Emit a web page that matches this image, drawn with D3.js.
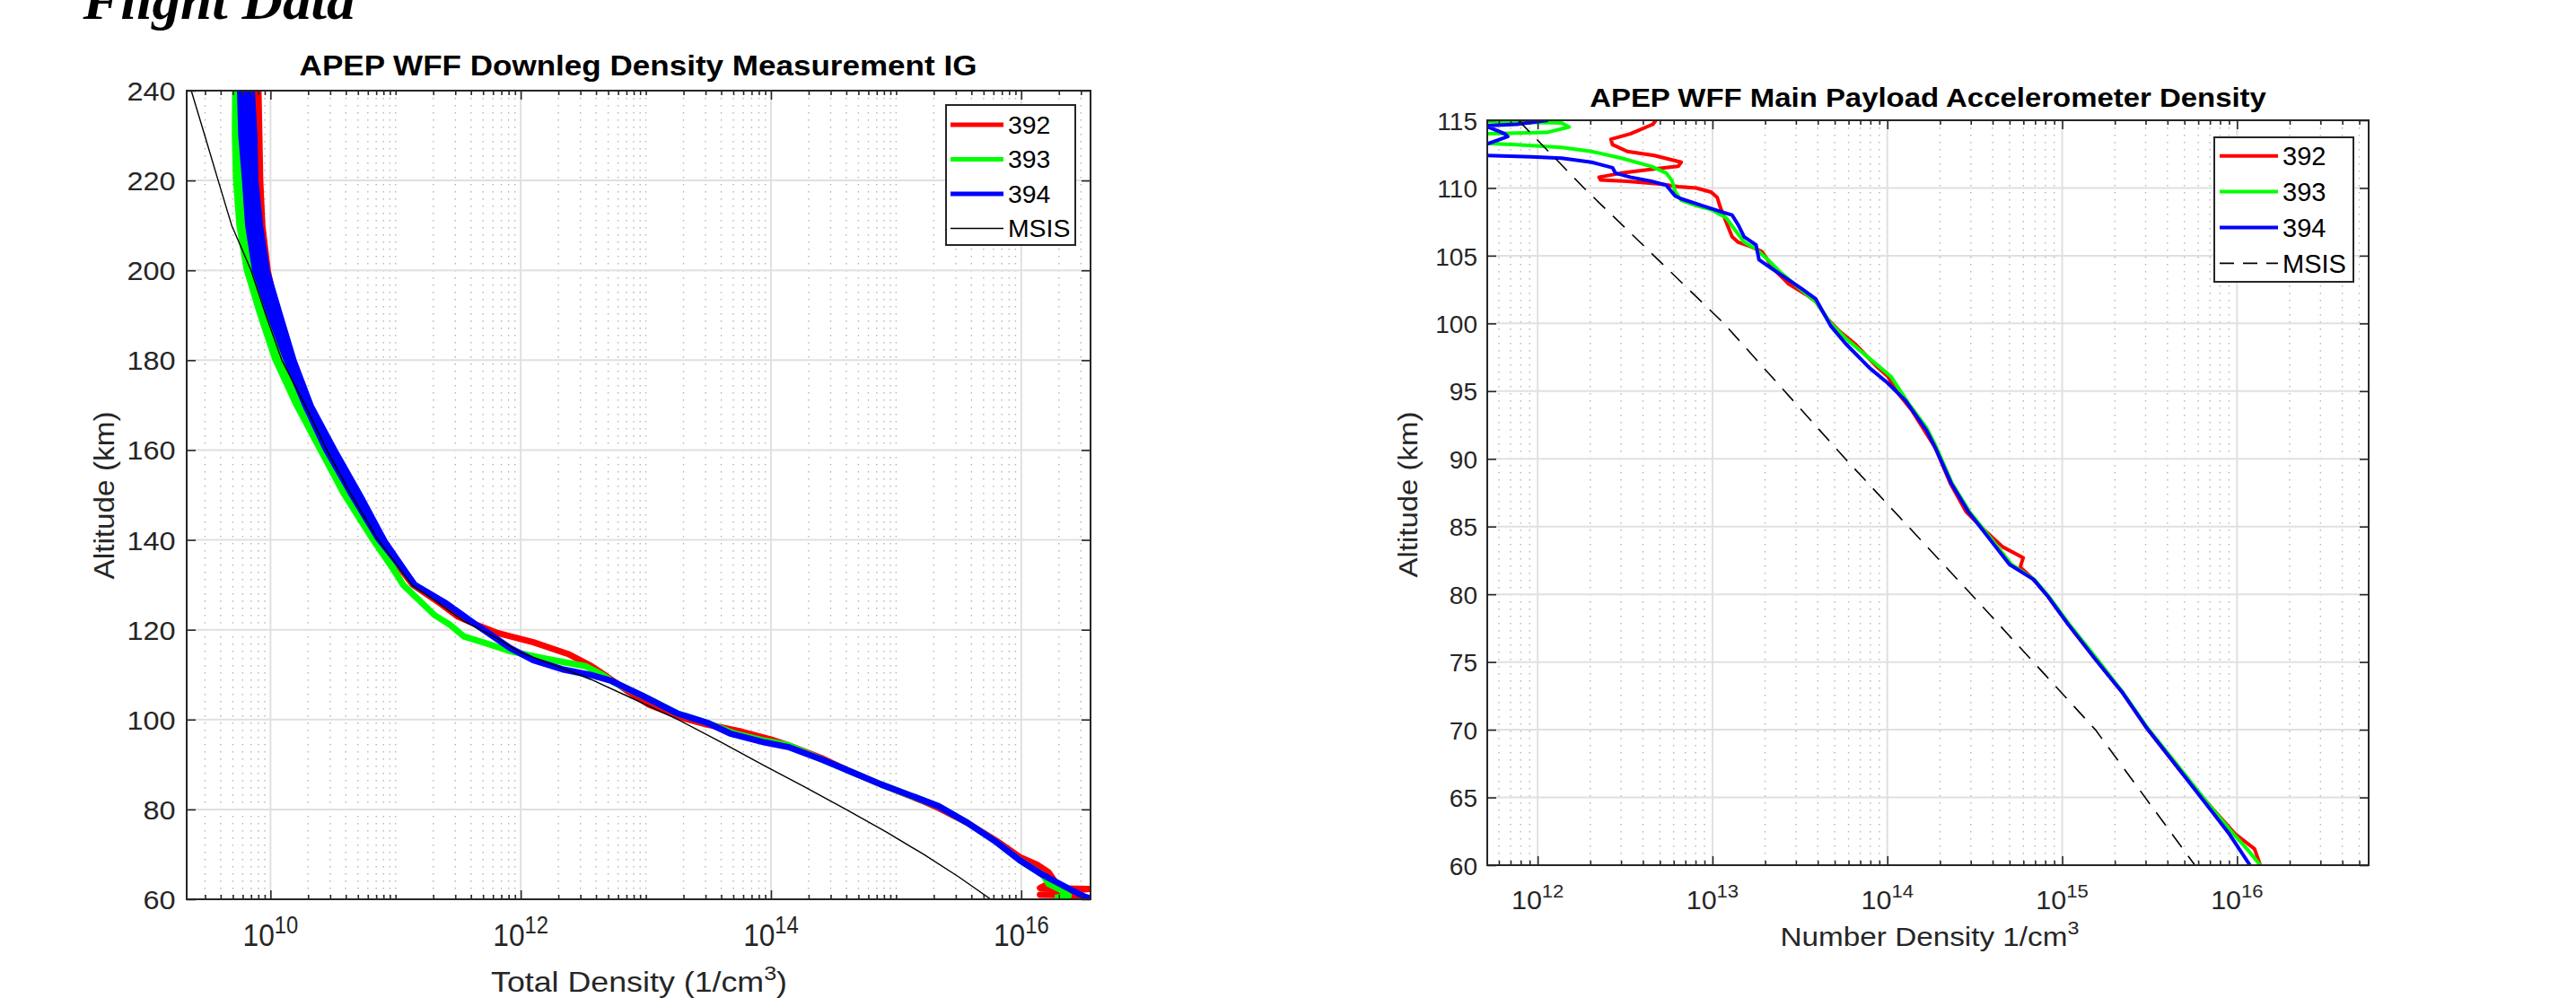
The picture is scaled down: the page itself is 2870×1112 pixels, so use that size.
<!DOCTYPE html>
<html>
<head>
<meta charset="utf-8">
<script src="https://cdn.jsdelivr.net/npm/d3@7"></script>
<style>
  body { margin: 0; background: #fff; }
  svg { display: block; }
</style>
</head>
<body>
<svg id="chart" width="2870" height="1112"></svg>
<script>
// ---------- left panel: downleg IG total density, values are log10(1/cm^3) ----------
const igUpperAlt = [240, 230, 220, 210, 200, 190, 180, 170, 160, 150, 140, 130];
const ig392Lo = [9.867, 9.874, 9.881, 9.898, 9.941, 10.017, 10.101, 10.256, 10.428, 10.627, 10.830, 11.118];
const ig392Hi = [9.929, 9.936, 9.943, 9.960, 10.003, 10.079, 10.163, 10.318, 10.490, 10.689, 10.892, 11.158];
const ig393Lo = [9.693, 9.691, 9.700, 9.727, 9.786, 9.894, 10.014, 10.181, 10.372, 10.563, 10.790, 11.035];
const ig393Hi = [9.787, 9.785, 9.794, 9.821, 9.880, 9.988, 10.108, 10.275, 10.466, 10.657, 10.884, 11.085];
const ig394Lo = [9.732, 9.742, 9.772, 9.797, 9.852, 9.970, 10.102, 10.251, 10.419, 10.622, 10.838, 11.123];
const ig394Hi = [9.876, 9.896, 9.904, 9.941, 9.996, 10.102, 10.210, 10.347, 10.539, 10.742, 10.934, 11.181];

const ig392Alt = [240, 230, 220, 210, 200, 190, 180, 170, 160, 150, 140, 130, 125.8, 122.9, 121.2, 119.2, 117.2, 114.6, 111.9, 110.2, 106.6, 103.3, 100.3, 98.9, 97.3, 95.6, 94.3, 91.3, 88.3, 85.6, 83.0, 82.0, 80.3, 77.0, 73.0, 69.4, 67.7, 66.0, 64.1, 62.5, 62.3, 61.6, 61.0, 60.9, 60.3];
const ig392Log = [9.898, 9.905, 9.912, 9.929, 9.972, 10.048, 10.132, 10.287, 10.459, 10.658, 10.861, 11.138, 11.360, 11.499, 11.638, 11.823, 12.101, 12.379, 12.564, 12.656, 12.841, 13.026, 13.304, 13.489, 13.767, 13.998, 14.137, 14.415, 14.646, 14.877, 15.109, 15.201, 15.340, 15.571, 15.803, 15.988, 16.127, 16.219, 16.266, 16.15, 16.54, 16.30, 16.15, 16.40, 16.50];
const ig393Alt = [240, 230, 220, 210, 200, 190, 180, 170, 160, 150, 140, 130, 123.2, 121.2, 118.5, 116.9, 115.2, 113.6, 111.9, 109.9, 108.2, 105.2, 101.3, 99.3, 97.0, 95.3, 94.3, 91.0, 88.3, 85.6, 82.9, 80.7, 77.0, 72.7, 68.7, 65.4, 63.4, 62.0, 60.8, 60.3];
const ig393Log = [9.740, 9.738, 9.747, 9.774, 9.833, 9.941, 10.061, 10.228, 10.419, 10.610, 10.837, 11.060, 11.314, 11.430, 11.546, 11.731, 11.916, 12.193, 12.517, 12.656, 12.749, 12.980, 13.258, 13.489, 13.70, 13.952, 14.137, 14.415, 14.646, 14.877, 15.13, 15.340, 15.571, 15.803, 15.988, 16.173, 16.219, 16.32, 16.38, 16.27];
const ig394Alt = [240, 230, 220, 210, 200, 190, 180, 170, 160, 150, 140, 130, 125.8, 121.2, 115.9, 113.2, 111.2, 109.9, 108.6, 105.2, 101.3, 99.3, 96.9, 94.9, 93.9, 91.0, 88.3, 85.6, 82.7, 80.7, 77.0, 72.7, 68.7, 65.4, 62.7, 60.7, 60.2];
const ig394Log = [9.804, 9.819, 9.838, 9.869, 9.924, 10.036, 10.156, 10.299, 10.479, 10.682, 10.886, 11.152, 11.407, 11.638, 11.916, 12.101, 12.332, 12.564, 12.726, 12.980, 13.258, 13.489, 13.674, 13.952, 14.137, 14.415, 14.646, 14.877, 15.155, 15.340, 15.571, 15.803, 15.988, 16.173, 16.358, 16.497, 16.55];
const igMsisAlt = [240, 230, 220, 210, 200, 190, 180, 170, 160, 150, 140, 130, 126.5, 121.9, 117.9, 114.9, 111.9, 108.9, 105, 100, 95, 90, 85, 80, 75, 70, 65, 60];
const igMsisLog = [9.367, 9.475, 9.582, 9.690, 9.845, 9.964, 10.091, 10.276, 10.450, 10.646, 10.861, 11.129, 11.314, 11.546, 11.823, 11.999, 12.286, 12.564, 12.87, 13.258, 13.60, 13.93, 14.27, 14.60, 14.92, 15.22, 15.50, 15.757];

// ---------- right panel: main payload accelerometer density ----------
const acc392Alt = [115.0, 114.7, 114.0, 113.6, 113.2, 112.7, 112.4, 111.9, 111.6, 111.4, 111.1, 110.8, 110.6, 110.5, 110.3, 110.1, 110.0, 109.7, 109.3, 108.6, 107.5, 106.4, 106.0, 105.7, 105.3, 104.0, 102.9, 102.1, 101.6, 100.3, 99.4, 98.5, 96.9, 96.1, 94.7, 93.6, 90.8, 88.2, 86.1, 84.8, 83.5, 82.7, 82.0, 81.1, 79.9, 77.8, 75.2, 72.7, 70.1, 67.2, 64.6, 62.3, 61.2, 60.0];
const acc392Log = [12.676, 12.659, 12.530, 12.419, 12.428, 12.513, 12.667, 12.821, 12.804, 12.667, 12.479, 12.351, 12.359, 12.513, 12.701, 12.804, 12.907, 12.992, 13.027, 13.044, 13.078, 13.112, 13.146, 13.215, 13.283, 13.352, 13.437, 13.540, 13.591, 13.660, 13.728, 13.814, 13.933, 14.002, 14.070, 14.139, 14.275, 14.36, 14.45, 14.55, 14.66, 14.777, 14.76, 14.836, 14.915, 15.033, 15.190, 15.347, 15.485, 15.661, 15.83, 15.99, 16.10, 16.133];
const acc393Alt = [114.9, 114.8, 114.5, 114.1, 114.0, 113.3, 113.2, 113.0, 112.7, 112.2, 111.6, 111.1, 110.5, 109.7, 109.1, 108.7, 108.4, 107.8, 106.9, 106.0, 105.5, 104.7, 103.8, 102.5, 101.6, 100.0, 98.9, 97.4, 96.1, 94.1, 92.3, 91.0, 88.2, 86.1, 84.8, 83.5, 82.2, 81.1, 79.9, 77.8, 75.2, 72.7, 70.1, 67.2, 64.6, 62.3, 61.0, 60.0];
const acc393Log = [11.70, 12.137, 12.180, 12.051, 11.70, 11.70, 11.880, 12.137, 12.308, 12.479, 12.650, 12.736, 12.770, 12.787, 12.821, 12.907, 12.992, 13.078, 13.129, 13.181, 13.249, 13.317, 13.386, 13.506, 13.591, 13.677, 13.762, 13.899, 14.019, 14.121, 14.224, 14.275, 14.37, 14.47, 14.55, 14.63, 14.71, 14.84, 14.92, 15.04, 15.20, 15.35, 15.49, 15.67, 15.83, 15.98, 16.07, 16.133];
const acc394Alt = [115.0, 114.7, 114.6, 114.0, 113.8, 113.2, 112.4, 112.3, 112.2, 111.9, 111.5, 111.1, 110.8, 110.5, 110.2, 109.4, 109.2, 108.7, 108.2, 108.0, 107.3, 106.4, 105.8, 104.7, 104.1, 103.5, 102.6, 101.8, 99.8, 98.5, 96.7, 95.6, 94.3, 92.1, 90.8, 88.2, 86.1, 84.8, 83.5, 82.2, 81.1, 79.9, 77.8, 75.2, 72.7, 70.1, 67.2, 64.6, 62.3, 60.0];
const acc394Log = [12.060, 11.880, 11.70, 11.812, 11.829, 11.70, 11.70, 11.966, 12.137, 12.308, 12.428, 12.445, 12.530, 12.650, 12.736, 12.787, 12.821, 12.941, 13.061, 13.112, 13.146, 13.181, 13.249, 13.266, 13.334, 13.403, 13.506, 13.591, 13.677, 13.762, 13.899, 14.002, 14.104, 14.224, 14.275, 14.365, 14.463, 14.542, 14.620, 14.699, 14.836, 14.915, 15.033, 15.190, 15.347, 15.485, 15.661, 15.818, 15.956, 16.074];
const accMsisAlt = [115, 110, 100, 90, 80, 70, 60];
const accMsisLog = [11.889, 12.265, 13.065, 13.76, 14.48, 15.19, 15.759];

// ---------- axes / labels ----------
const seriesNames = ['392', '393', '394', 'MSIS'];
const leftXLim = [2.14e9, 3.58e16];
const rightXLim = [5.15e11, 5.66e16];
const leftYLim = [60, 240];
const rightYLim = [60, 115];
const leftXTickExps = [10, 12, 14, 16];
const rightXTickExps = [12, 13, 14, 15, 16];
const leftYTicks = [60, 80, 100, 120, 140, 160, 180, 200, 220, 240];
const rightYTicks = [60, 65, 70, 75, 80, 85, 90, 95, 100, 105, 110, 115];

const FONT = '"Liberation Sans", Arial, Helvetica, sans-serif';
const AXIS = '#262626';
const COLORS = ['#ff0000', '#00ff00', '#0000ff', '#000000'];

const svg = d3.select('#chart');
svg.append('rect').attr('width', 2870).attr('height', 1112).attr('fill', '#fff');

const pts = (alts, logs) => alts.map((a, i) => ({ alt: a, v: 10 ** logs[i] }));

// stretch a text horizontally so it spans `width` px
function fitText(t, cx, cy, width, rotate) {
  const w = t.node().getBBox().width;
  const s = width / w;
  t.attr('text-anchor', 'middle')
    .attr('transform', `translate(${cx},${cy})${rotate ? ' rotate(-90)' : ''} scale(${s},1)`);
}

function panel(o) {
  const box = o.box;
  const x = d3.scaleLog().domain(o.xLim).range([box.left, box.right]);
  const y = d3.scaleLinear().domain(o.yLim).range([box.bottom, box.top]);
  const g = svg.append('g');

  const majors = o.xTickExps.map(e => 10 ** e);
  const minors = [];
  const e0 = Math.floor(Math.log10(o.xLim[0])), e1 = Math.ceil(Math.log10(o.xLim[1]));
  for (let e = e0; e <= e1; e++) {
    for (let k = 1; k <= 9; k++) {
      const v = k * 10 ** e;
      if (v < o.xLim[0] || v > o.xLim[1]) continue;
      if (k === 1 && o.xTickExps.includes(e)) continue;
      minors.push(v);
    }
  }

  // grid
  g.append('g').selectAll('line').data(minors).join('line')
    .attr('x1', d => x(d)).attr('x2', d => x(d))
    .attr('y1', box.top).attr('y2', box.bottom)
    .attr('stroke', '#b5b5b5').attr('stroke-width', 1.4).attr('stroke-dasharray', '1.4 6.6');
  g.append('g').selectAll('line').data(majors).join('line')
    .attr('x1', d => x(d)).attr('x2', d => x(d))
    .attr('y1', box.top).attr('y2', box.bottom)
    .attr('stroke', '#e0e0e0').attr('stroke-width', 2);
  g.append('g').selectAll('line').data(o.yTicks).join('line')
    .attr('x1', box.left).attr('x2', box.right)
    .attr('y1', d => y(d)).attr('y2', d => y(d))
    .attr('stroke', '#e0e0e0').attr('stroke-width', 2);

  // data
  const clipId = 'clip-' + o.id;
  svg.append('clipPath').attr('id', clipId).append('rect')
    .attr('x', box.left).attr('y', box.top)
    .attr('width', box.right - box.left).attr('height', box.bottom - box.top);
  const dg = g.append('g').attr('clip-path', `url(#${clipId})`);
  const line = d3.line().x(d => x(d.v)).y(d => y(d.alt));
  const area = d3.area().y(d => y(d.alt)).x0(d => x(d.lo)).x1(d => x(d.hi));

  o.series.forEach((s, i) => {
    if (s.band) {
      dg.append('path').datum(s.band).attr('d', area).attr('fill', COLORS[i]);
    }
    dg.append('path').datum(s.data).attr('d', line)
      .attr('fill', 'none').attr('stroke', COLORS[i])
      .attr('stroke-width', s.width).attr('stroke-linejoin', 'round')
      .attr('stroke-dasharray', s.dash || null);
  });

  // ticks (inward, mirrored, MATLAB style)
  const tick = (axis, tr) => g.append('g').attr('transform', tr).call(axis)
    .call(s => s.select('.domain').remove())
    .call(s => s.selectAll('line').attr('stroke', AXIS).attr('stroke-width', 1.6));
  tick(d3.axisBottom(x).tickValues(majors).tickSize(-10).tickFormat(''), `translate(0,${box.bottom})`);
  tick(d3.axisBottom(x).tickValues(minors).tickSize(-5).tickFormat(''), `translate(0,${box.bottom})`);
  tick(d3.axisTop(x).tickValues(majors).tickSize(-10).tickFormat(''), `translate(0,${box.top})`);
  tick(d3.axisTop(x).tickValues(minors).tickSize(-5).tickFormat(''), `translate(0,${box.top})`);
  tick(d3.axisRight(y).tickValues(o.yTicks).tickSize(-10).tickFormat(''), `translate(${box.right},0)`);
  const yAx = tick(d3.axisLeft(y).tickValues(o.yTicks).tickSize(-10).tickPadding(o.yTickPad)
    .tickFormat(d3.format('d')), `translate(${box.left},0)`);
  yAx.selectAll('text')
    .attr('fill', AXIS).attr('font-family', FONT).attr('font-size', o.yTickFont)
    .attr('dy', '0.36em').attr('transform', `scale(${o.yTickSx},1)`);

  g.append('rect')
    .attr('x', box.left).attr('y', box.top)
    .attr('width', box.right - box.left).attr('height', box.bottom - box.top)
    .attr('fill', 'none').attr('stroke', AXIS).attr('stroke-width', 2);

  // x tick labels: 10^n
  o.xTickExps.forEach((e, i) => {
    const t = g.append('text')
      .attr('transform', `translate(${x(majors[i])},${o.xTickBase}) scale(${o.xTickSx},1)`)
      .attr('text-anchor', 'middle').attr('fill', AXIS)
      .attr('font-family', FONT).attr('font-size', o.xTickFont);
    t.append('tspan').text('10');
    t.append('tspan').attr('dy', -o.expRaise).attr('font-size', o.expFont).text(e);
  });

  // title
  const title = g.append('text').attr('font-family', FONT).attr('font-weight', 'bold')
    .attr('font-size', o.titleFont).attr('fill', '#000').text(o.title);
  fitText(title, o.titlePos[0], o.titlePos[1], o.titlePos[2]);

  // x label
  const xl = g.append('text').attr('font-family', FONT).attr('font-size', o.labelFont).attr('fill', AXIS);
  xl.append('tspan').text(o.xLabel[0]);
  xl.append('tspan').attr('dy', -13).attr('font-size', o.labelFont * 0.7).text('3');
  if (o.xLabel[1]) xl.append('tspan').attr('dy', 13).text(o.xLabel[1]);
  fitText(xl, o.xLabelPos[0], o.xLabelPos[1], o.xLabelPos[2]);

  // y label
  const yl = g.append('text').attr('font-family', FONT).attr('font-size', o.labelFont)
    .attr('fill', AXIS).text('Altitude (km)');
  fitText(yl, o.yLabelPos[0], o.yLabelPos[1], o.yLabelPos[2], true);

  // legend
  const L = o.legend;
  const lg = g.append('g');
  lg.append('rect').attr('x', L.x).attr('y', L.y).attr('width', L.w).attr('height', L.h)
    .attr('fill', '#fff').attr('stroke', AXIS).attr('stroke-width', 2);
  seriesNames.forEach((name, i) => {
    const cy = L.row0 + i * L.step;
    lg.append('line').attr('x1', L.lineX[0]).attr('x2', L.lineX[1]).attr('y1', cy).attr('y2', cy)
      .attr('stroke', COLORS[i]).attr('stroke-width', i < 3 ? L.lineW : 1.6)
      .attr('stroke-dasharray', i === 3 ? L.msisDash : null);
    lg.append('text').attr('transform', `translate(${L.textX},${cy + L.font * 0.36}) scale(${L.sx},1)`)
      .attr('font-family', FONT).attr('font-size', L.font).attr('fill', '#000').text(name);
  });
}

// top-left page heading
const head = svg.append('text')
  .attr('font-family', '"Liberation Serif", "Times New Roman", serif')
  .attr('font-weight', 'bold').attr('font-style', 'italic').attr('font-size', 60)
  .attr('fill', '#000').text('Flight Data');
fitText(head, 244, 21, 304);

panel({
  id: 'ig',
  box: { left: 208, right: 1215, top: 101, bottom: 1002 },
  xLim: leftXLim, yLim: leftYLim, xTickExps: leftXTickExps, yTicks: leftYTicks,
  yTickFont: 29, yTickSx: 1.12, yTickPad: 11,
  xTickBase: 1054, xTickFont: 36, expFont: 27, expRaise: 14, xTickSx: 0.88,
  title: 'APEP WFF Downleg Density Measurement IG', titleFont: 31, titlePos: [711, 84, 755],
  labelFont: 31, xLabel: ['Total Density (1/cm', ')'], xLabelPos: [712, 1105, 330],
  yLabelPos: [127, 552, 187],
  legend: { x: 1054, y: 117, w: 144, h: 156, row0: 139, step: 38.5, lineX: [1059, 1118], lineW: 5,
            textX: 1123, font: 27, sx: 1.05, msisDash: null },
  series: [
    { data: pts(ig392Alt, ig392Log), width: 7,
      band: igUpperAlt.map((a, i) => ({ alt: a, lo: 10 ** ig392Lo[i], hi: 10 ** ig392Hi[i] })) },
    { data: pts(ig393Alt, ig393Log), width: 7,
      band: igUpperAlt.map((a, i) => ({ alt: a, lo: 10 ** ig393Lo[i], hi: 10 ** ig393Hi[i] })) },
    { data: pts(ig394Alt, ig394Log), width: 7,
      band: igUpperAlt.map((a, i) => ({ alt: a, lo: 10 ** ig394Lo[i], hi: 10 ** ig394Hi[i] })) },
    { data: pts(igMsisAlt, igMsisLog), width: 1.4 }
  ]
});

panel({
  id: 'acc',
  box: { left: 1657, right: 2639, top: 134, bottom: 964 },
  xLim: rightXLim, yLim: rightYLim, xTickExps: rightXTickExps, yTicks: rightYTicks,
  yTickFont: 28, yTickSx: 1.0, yTickPad: 11,
  xTickBase: 1013, xTickFont: 29, expFont: 21, expRaise: 13, xTickSx: 1.05,
  title: 'APEP WFF Main Payload Accelerometer Density', titleFont: 29, titlePos: [2148, 119, 754],
  labelFont: 30, xLabel: ['Number Density 1/cm', null], xLabelPos: [2150, 1054, 333],
  yLabelPos: [1579, 551, 185],
  legend: { x: 2467, y: 153, w: 155, h: 161, row0: 173.7, step: 39.9, lineX: [2473, 2538], lineW: 4,
            textX: 2543, font: 29, sx: 1.0, msisDash: '16 10' },
  series: [
    { data: pts(acc392Alt, acc392Log), width: 4 },
    { data: pts(acc393Alt, acc393Log), width: 4 },
    { data: pts(acc394Alt, acc394Log), width: 4 },
    { data: pts(accMsisAlt, accMsisLog), width: 1.6, dash: '18 12' }
  ]
});
</script>
</body>
</html>
